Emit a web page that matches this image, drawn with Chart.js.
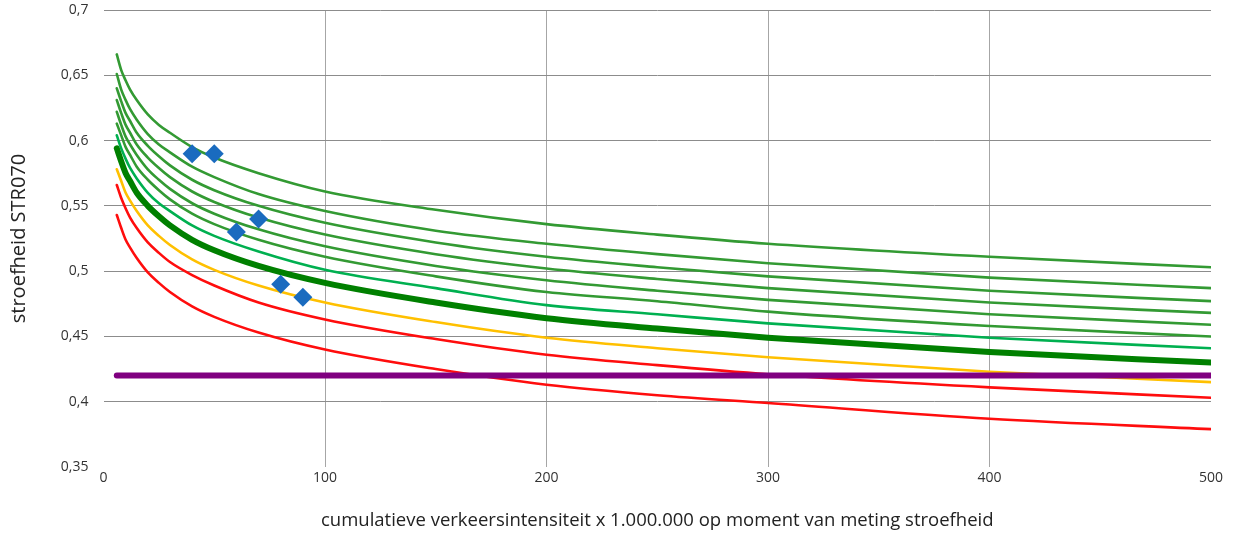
<!DOCTYPE html>
<html>
<head>
<meta charset="utf-8">
<script src="https://cdn.jsdelivr.net/npm/chart.js@4"></script>
<style>
  html, body { margin: 0; padding: 0; background: #ffffff; }
  #wrap { width: 1241px; height: 537px; position: relative; }
</style>
</head>
<body>
<div id="wrap"><canvas id="c" width="1241" height="537"></canvas></div>
<script>
// x values (cumulatieve verkeersintensiteit x 1.000.000) at which the curves were read
const xs = [6, 8, 10, 12, 15, 20, 25, 30, 40, 50, 70, 100, 150, 200, 250, 300, 400, 500];

// green curves, top to bottom
const green1 = [0.666, 0.654, 0.646, 0.639, 0.631, 0.620, 0.612, 0.606, 0.595, 0.587, 0.575, 0.561, 0.547, 0.536, 0.528, 0.521, 0.511, 0.503];
const green2 = [0.651, 0.639, 0.631, 0.624, 0.616, 0.605, 0.597, 0.591, 0.580, 0.572, 0.559, 0.546, 0.531, 0.521, 0.513, 0.506, 0.495, 0.487];
const green3 = [0.640, 0.630, 0.621, 0.615, 0.606, 0.596, 0.588, 0.581, 0.570, 0.562, 0.550, 0.537, 0.522, 0.511, 0.503, 0.496, 0.485, 0.477];
const green4 = [0.631, 0.621, 0.612, 0.606, 0.597, 0.587, 0.579, 0.572, 0.561, 0.553, 0.541, 0.528, 0.513, 0.502, 0.494, 0.487, 0.476, 0.468];
const green5 = [0.622, 0.612, 0.603, 0.597, 0.589, 0.578, 0.570, 0.563, 0.552, 0.544, 0.532, 0.519, 0.504, 0.493, 0.485, 0.478, 0.467, 0.459];
const green6 = [0.613, 0.604, 0.595, 0.589, 0.580, 0.570, 0.562, 0.555, 0.544, 0.536, 0.524, 0.511, 0.496, 0.484, 0.477, 0.469, 0.458, 0.450];
const lightGreen = [0.604, 0.594, 0.586, 0.579, 0.571, 0.560, 0.552, 0.546, 0.535, 0.527, 0.515, 0.501, 0.487, 0.474, 0.467, 0.460, 0.449, 0.441];
const thickGreen = [0.594, 0.584, 0.575, 0.569, 0.560, 0.550, 0.542, 0.535, 0.524, 0.516, 0.504, 0.491, 0.476, 0.464, 0.456, 0.449, 0.438, 0.430];
const yellow = [0.578, 0.569, 0.560, 0.554, 0.546, 0.535, 0.527, 0.520, 0.509, 0.501, 0.489, 0.476, 0.461, 0.449, 0.441, 0.434, 0.423, 0.415];
const red1 = [0.566, 0.556, 0.548, 0.541, 0.533, 0.522, 0.514, 0.507, 0.497, 0.489, 0.476, 0.463, 0.448, 0.436, 0.428, 0.421, 0.411, 0.403];
const red2 = [0.543, 0.533, 0.524, 0.518, 0.510, 0.499, 0.491, 0.484, 0.473, 0.465, 0.453, 0.440, 0.425, 0.413, 0.405, 0.399, 0.387, 0.379];

// horizontal limit line
const limitX = [6, 500];
const limitY = [0.42, 0.42];

// measurements (diamonds)
const measX = [40, 50, 60, 70, 80, 90];
const measY = [0.59, 0.59, 0.53, 0.54, 0.49, 0.48];

const xTitle = 'cumulatieve verkeersintensiteit x 1.000.000 op moment van meting stroefheid';
const yTitle = 'stroefheid STR070';

function pts(xArr, yArr) { return xArr.map((x, i) => ({ x: x, y: yArr[i] })); }

function curve(label, values, color, width, order) {
  return {
    type: 'line', label: label, data: pts(xs, values),
    borderColor: color, backgroundColor: color, borderWidth: width,
    pointRadius: 0, cubicInterpolationMode: 'monotone', fill: false,
    borderCapStyle: 'round', order: order
  };
}

function draw() {
  const DARKG = '#339a33';
  const datasets = [
    {
      type: 'scatter', label: 'metingen', data: pts(measX, measY),
      pointStyle: 'rectRot', pointRadius: 9.5, pointHoverRadius: 9.5,
      backgroundColor: '#1a6bbf', borderColor: '#1a6bbf', borderWidth: 0, order: 0
    },
    {
      type: 'line', label: 'grens', data: pts(limitX, limitY),
      borderColor: '#800080', borderWidth: 6, pointRadius: 0, fill: false,
      borderCapStyle: 'round', order: 1
    },
    curve('dik', thickGreen, '#008000', 6, 2),
    curve('g1', green1, DARKG, 2.6, 3),
    curve('g2', green2, DARKG, 2.6, 3),
    curve('g3', green3, DARKG, 2.6, 3),
    curve('g4', green4, DARKG, 2.6, 3),
    curve('g5', green5, DARKG, 2.6, 3),
    curve('g6', green6, DARKG, 2.6, 3),
    curve('lg', lightGreen, '#00b050', 2.6, 3),
    curve('geel', yellow, '#ffc000', 2.6, 3),
    curve('r1', red1, '#ff0d0d', 2.6, 3),
    curve('r2', red2, '#ff0d0d', 2.6, 3)
  ];

  new Chart(document.getElementById('c'), {
    type: 'line',
    data: { datasets: datasets },
    options: {
      responsive: false,
      animation: false,
      events: [],
      layout: { padding: { top: 10, right: 30, left: 0, bottom: 0 } },
      plugins: { legend: { display: false }, tooltip: { enabled: false } },
      scales: {
        x: {
          type: 'linear', min: 0, max: 500,
          border: { display: false },
          grid: {
            drawTicks: false, lineWidth: 1,
            color: (ctx) => (ctx.tick && (ctx.tick.value === 0 || ctx.tick.value === 500)) ? 'rgba(0,0,0,0)' : '#a6a6a6'
          },
          ticks: {
            stepSize: 100, padding: 3, maxRotation: 0,
            color: '#333333', font: { family: '"Open Sans", sans-serif', size: 14 }
          },
          title: {
            display: true, text: xTitle, color: '#222222',
            font: { family: '"Open Sans", sans-serif', size: 18.5 },
            padding: { top: 0, bottom: 5 }
          },
          afterFit: (s) => { s.height = 70; s.paddingLeft = 0; s.paddingRight = 0; }
        },
        y: {
          type: 'linear', min: 0.35, max: 0.7,
          border: { display: false },
          grid: {
            drawTicks: false, lineWidth: 1,
            color: (ctx) => (ctx.tick && Math.abs(ctx.tick.value - 0.35) < 1e-6) ? 'rgba(0,0,0,0)' : '#8c8c8c'
          },
          ticks: {
            stepSize: 0.05, padding: 15,
            color: '#333333', font: { family: '"Open Sans", sans-serif', size: 14 },
            callback: (v) => String(Number(v.toFixed(2))).replace('.', ',')
          },
          title: {
            display: true, text: yTitle, color: '#222222',
            font: { family: '"Open Sans", sans-serif', size: 20 },
            padding: { top: 7, bottom: 0 }
          },
          afterFit: (s) => { s.width = 103.5; s.paddingTop = 0; s.paddingBottom = 0; }
        }
      }
    }
  });
}

if (document.fonts && document.fonts.load) {
  Promise.all([
    document.fonts.load('14px "Open Sans"'),
    document.fonts.load('20px "Open Sans"')
  ]).then(draw, draw);
} else {
  draw();
}
</script>
</body>
</html>
